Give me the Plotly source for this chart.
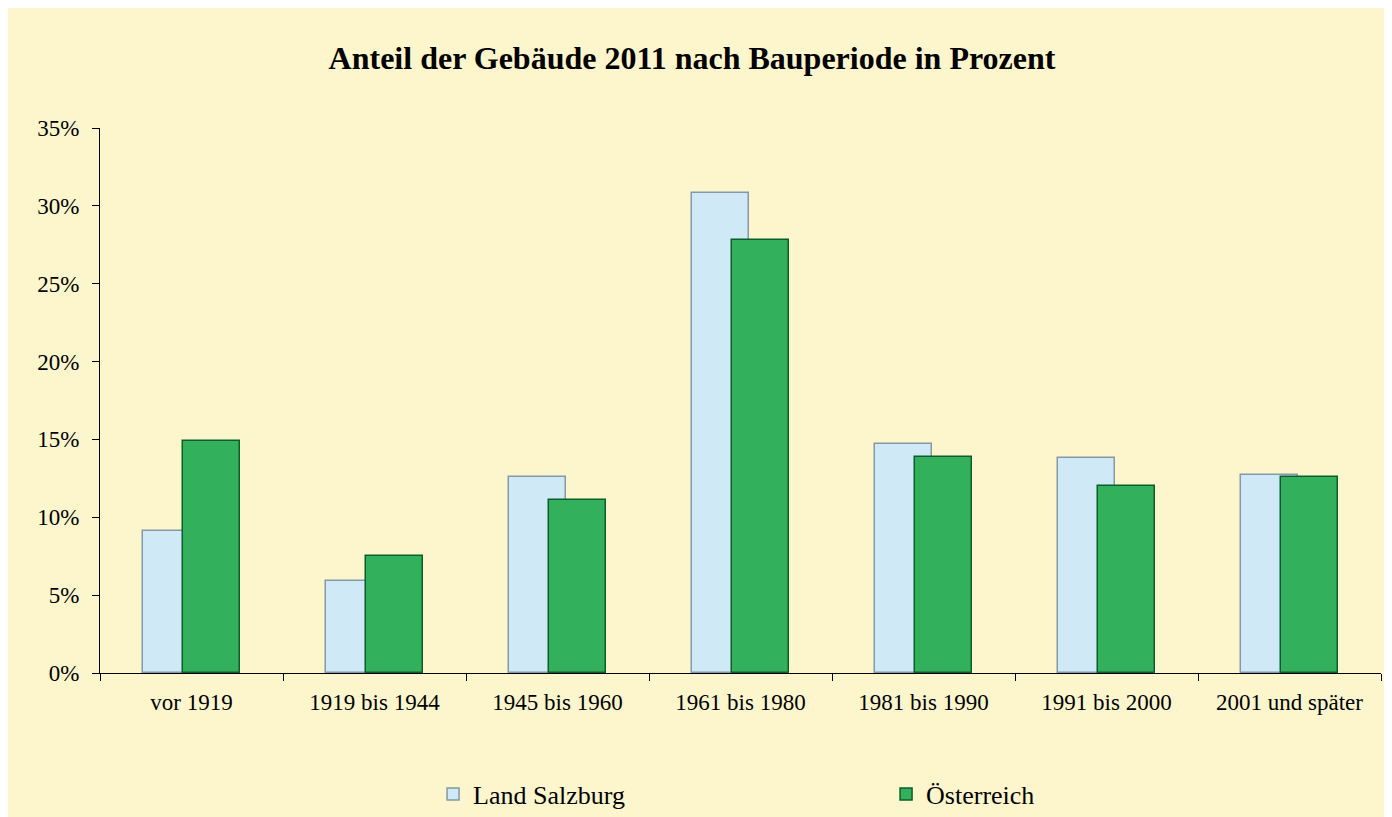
import plotly.graph_objects as go

categories = ["vor 1919", "1919 bis 1944", "1945 bis 1960", "1961 bis 1980",
              "1981 bis 1990", "1991 bis 2000", "2001 und später"]
salzburg = [9.1, 5.9, 12.6, 30.8, 14.7, 13.8, 12.7]
oesterreich = [14.9, 7.5, 11.1, 27.8, 13.9, 12.0, 12.6]
y_ticks = [0, 5, 10, 15, 20, 25, 30, 35]
y_tick_labels = [f"{v}%" for v in y_ticks]

SERIF = "Liberation Serif, Times New Roman, serif"
BG = "#FDF6CC"

fig = go.Figure()
fig.add_trace(go.Bar(
    name="Land Salzburg", x=categories, y=salzburg,
    width=0.31, offset=-0.265,
    marker=dict(color="#D0E9F7", line=dict(color="#8597A8", width=1.5)),
))
fig.add_trace(go.Bar(
    name="Österreich", x=categories, y=oesterreich,
    width=0.31, offset=-0.047,
    marker=dict(color="#33B05C", line=dict(color="#0B5E2B", width=1.5)),
))

fig.update_layout(
    width=1384, height=809,
    paper_bgcolor=BG, plot_bgcolor=BG,
    margin=dict(l=92, r=11, t=120, b=144),
    barmode="overlay",
    title=dict(text="<b>Anteil der Gebäude 2011 nach Bauperiode in Prozent</b>",
               x=684 / 1384, xref="container", xanchor="center",
               y=1 - 50 / 809, yref="container", yanchor="middle",
               font=dict(family=SERIF, size=32, color="black")),
    font=dict(family=SERIF, color="black"),
    showlegend=True,
    legend=dict(orientation="h", x=0.26, xanchor="left",
                y=1 - 786 / 809, yref="container", yanchor="middle",
                entrywidth=408, entrywidthmode="pixels",
                font=dict(family=SERIF, size=26, color="black"),
                bgcolor="rgba(0,0,0,0)", itemclick=False),
    bargap=0,
)
fig.update_xaxes(
    type="category", showgrid=False, showline=True, linecolor="black", linewidth=1,
    ticks="outside", tickson="boundaries", ticklen=7, tickcolor="black",
    ticklabelstandoff=8,
    tickfont=dict(family=SERIF, size=23, color="black"),
    range=[-0.5, len(categories) - 0.5], zeroline=False,
)
fig.update_yaxes(
    range=[0, 35], tickvals=y_ticks, ticktext=y_tick_labels,
    showgrid=False, showline=True, linecolor="black", linewidth=1,
    ticks="outside", ticklen=7, tickcolor="black",
    ticklabelstandoff=8,
    tickfont=dict(family=SERIF, size=23, color="black"),
    zeroline=False,
)

fig.write_html("out.html")
